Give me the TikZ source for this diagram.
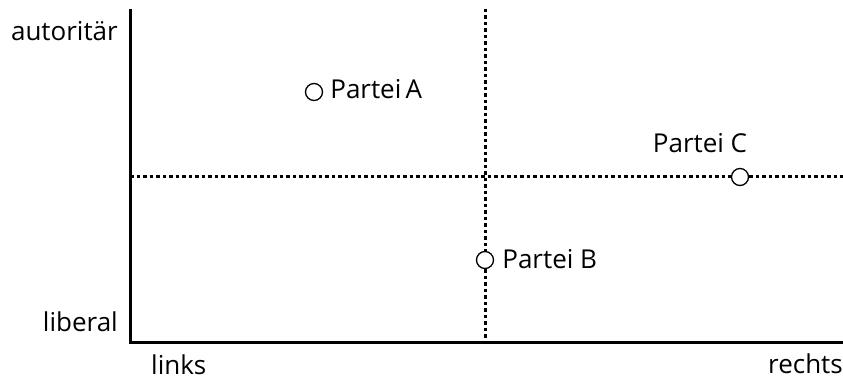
\documentclass[tikz,border=0pt]{standalone}
\usepackage{fontspec}
\setmainfont{Open Sans}
\usetikzlibrary{positioning}
\begin{document}
\begin{tikzpicture}[x=1pt,y=-1pt]

\tikzstyle{partynode}=[circle,draw,line width=1.3pt,inner sep=0pt,minimum size=17pt]
\tikzstyle{labelnode}=[inner sep=0pt,font=\fontsize{26}{30}\selectfont]
\tikzstyle{axisline}=[line width=3pt]
\tikzstyle{dotline}=[line width=3pt,dash pattern=on 3.5pt off 3pt]

\useasboundingbox (0,0) rectangle (843,379);

\begin{scope}[]

\coordinate (top) at (130,9);
\coordinate (origin) at (130,342);
\coordinate (right) at (843,342);

\node [partynode] (pa) at (314,92){};
\node [partynode] (pb) at (485,260){};
\node [partynode] (pc) at (740,177){};

\node [labelnode,anchor=base west] (la) at ([xshift=7pt,yshift=-7pt]pa.east){Partei\,A};
\node [labelnode,anchor=base west] (lb) at ([xshift=8pt,yshift=-9pt]pb.east){Partei B};
\node [labelnode,anchor=base] (lc) at ([xshift=-40pt,yshift=15pt]pc.north){Partei C};

\node [labelnode,anchor=base east] (auto) at (118,41){autorit\"ar};
\node [labelnode,anchor=base east] (lib) at (118,331){liberal};
\node [labelnode,anchor=base west] (links) at (151,374){links};
\node [labelnode,anchor=base east] (rechts) at (843,373){rechts};

% axes
\draw[axisline] (top)--(origin)--(right);

% dotted cross through the middle
\coordinate (vtop) at (485,9);
\coordinate (vbot) at (485,342);
\coordinate (hleft) at (130,177);
\coordinate (hright) at (843,177);

\draw[dotline] (vtop)--(pb.north);
\draw[dotline] (pb.south)--(vbot);
\draw[dotline] (hleft)--(pc.west);
\draw[dotline] (pc.east)--(hright);

\end{scope}
\end{tikzpicture}
\end{document}
